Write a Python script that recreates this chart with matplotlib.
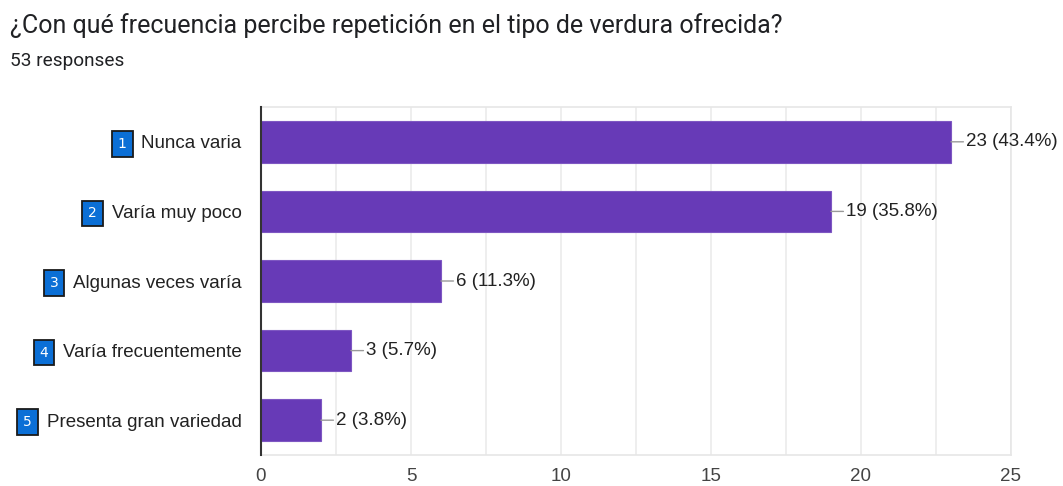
import matplotlib.pyplot as plt
from matplotlib.ticker import MultipleLocator

title = '¿Con qué frecuencia percibe repetición en el tipo de verdura ofrecida?'
subtitle = '53 responses'
categories = ['Nunca varia', 'Varía muy poco', 'Algunas veces varía',
              'Varía frecuentemente', 'Presenta gran variedad']
numbers = ['1', '2', '3', '4', '5']
counts = [23, 19, 6, 3, 2]
percents = ['43.4%', '35.8%', '11.3%', '5.7%', '3.8%']

plt.rcParams['font.family'] = ['Liberation Sans', 'DejaVu Sans']

fig = plt.figure(figsize=(10.63, 4.86), dpi=100)
ax = fig.add_axes([0.2455, 0.0638, 0.7055, 0.716])

pos = list(range(len(categories)))
ax.barh(pos, counts, height=0.6, color='#673ab7', edgecolor='#7e57c2', linewidth=0.8, zorder=3)

ax.set_xlim(0, 25)
ax.set_ylim(4.5, -0.5)
ax.xaxis.set_major_locator(MultipleLocator(5))
ax.xaxis.set_minor_locator(MultipleLocator(2.5))
ax.grid(axis='x', which='both', color='#ebebeb', linewidth=1.2, zorder=0)

for s in ['top', 'right', 'bottom']:
    ax.spines[s].set_color('#e6e6e6')
    ax.spines[s].set_linewidth(1.2)
ax.spines['left'].set_color('#333333')
ax.spines['left'].set_linewidth(1.5)
ax.spines['left'].set_zorder(4)

ax.set_yticks(pos)
ax.set_yticklabels(categories, fontsize=13.5, color='#222222')
ax.tick_params(axis='y', length=0, pad=14)
ax.tick_params(axis='x', which='both', length=0, labelsize=13.5, labelcolor='#444444', pad=9.5)

for i, (c, p) in enumerate(zip(counts, percents)):
    ax.annotate(f'{c} ({p})', xy=(c, i), xytext=(11, 0), textcoords='offset points',
                ha='left', va='center', fontsize=13.5, color='#222222',
                arrowprops=dict(arrowstyle='-', color='#999999', lw=1,
                                shrinkA=0, shrinkB=0))

# numbered boxes to the left of each category label
fig.canvas.draw()
r = fig.canvas.get_renderer()
for lab, n in zip(ax.get_yticklabels(), numbers):
    bb = lab.get_window_extent(r)
    yc = (bb.y0 + bb.y1) / 2
    fig.text((bb.x0 - 19) / fig.bbox.width, yc / fig.bbox.height, n,
             ha='center', va='center', fontsize=10, color='white',
             family=['DejaVu Sans'],
             bbox=dict(boxstyle='square,pad=0.42', facecolor='#0b6fd6',
                       edgecolor='#1a1a1a', linewidth=1.3))

fig.text(10 / 1063, 1 - 33 / 486, title, fontsize=18, color='#202124',
         family=['Roboto', 'DejaVu Sans'], va='baseline')
fig.text(10 / 1063, 1 - 66 / 486, subtitle, fontsize=13.7, color='#202124',
         family=['Roboto', 'DejaVu Sans'], va='baseline')

fig.savefig('out.png', dpi=100)
